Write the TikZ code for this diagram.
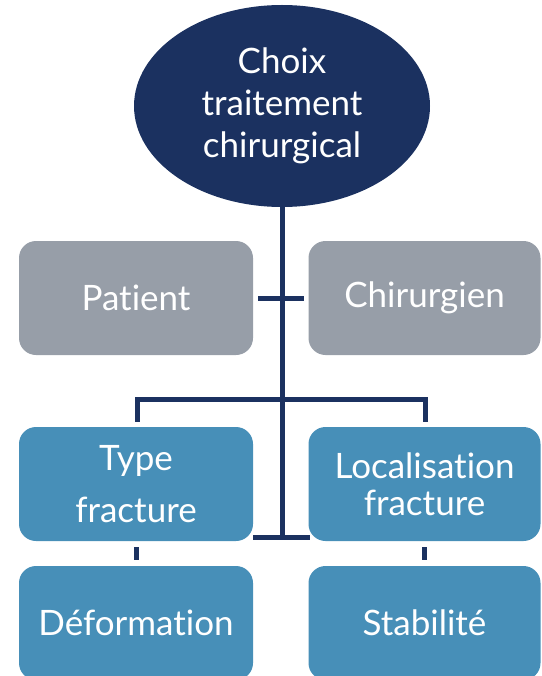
\documentclass[tikz,border=0pt]{standalone}
\usepackage{fontspec}
\setmainfont{Lato}[Ligatures={CommonOff}]
\usetikzlibrary{shapes.geometric,calc}
\definecolor{navy}{HTML}{1B3160}
\definecolor{grayc}{HTML}{979EA8}
\definecolor{bluec}{HTML}{478FB8}
\tikzset{
  box/.style={rounded corners=17pt, minimum height=114pt, inner sep=0pt, text=white, align=center, font=\fontsize{35}{37}\selectfont},
  graybox/.style={box, fill=grayc},
  bluebox/.style={box, fill=bluec},
  conn/.style={draw=navy, line width=5pt},
}
\begin{document}
\begin{tikzpicture}[x=1pt,y=-1pt]
\useasboundingbox (0,0) rectangle (541,676);
\node[ellipse, fill=navy, minimum width=296pt, minimum height=202pt, inner sep=0pt, text=white, align=center, font=\fontsize{35}{42}\selectfont] (root) at (282,106) {Choix\\traitement\\chirurgical};
\node[graybox, minimum width=234pt] (patient) at (136,298) {Patient};
\node[graybox, minimum width=232pt] (chir) at (424.5,298) {Chirurgien};
\node[bluebox, minimum width=234pt] (type) at (136,484) {Type\\[15pt]fracture};
\node[bluebox, minimum width=232pt] (loc) at (424.5,484) {Localisation\\fracture};
\node[bluebox, minimum width=234pt] (def) at (136,623) {Déformation};
\node[bluebox, minimum width=232pt] (stab) at (424.5,623) {Stabilité};
\coordinate (tb) at (282,537);
\coordinate (tl) at (253,537);
\coordinate (tr) at (310,537);
\coordinate (cl) at (258,298);
\coordinate (cr) at (304,298);
\coordinate (bl) at (137,399);
\coordinate (br) at (425,399);
\draw[conn] (root.south) -- (tb);
\draw[conn] (tl) -- (tr);
\draw[conn] (cl) -- (cr);
\draw[conn] ($(type.north)+(1,-5)$) -- (bl) -- (br) -- ($(loc.north)+(0.5,-5)$);
\draw[conn] ($(type.south)+(0,6)$) -- ($(def.north)+(0,-6)$);
\draw[conn] ($(loc.south)+(0,6)$) -- ($(stab.north)+(0,-6)$);
\end{tikzpicture}
\end{document}
